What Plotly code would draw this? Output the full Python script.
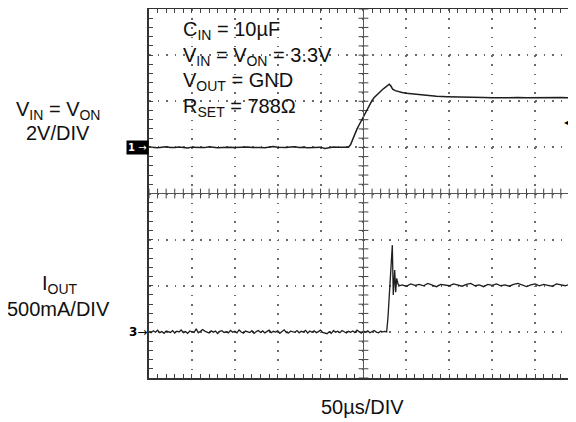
import plotly.graph_objects as go

# ---- data (time in microseconds, VIN in volts, IOUT in mA) ----
vin_t = [-250, -245, -240, -235, -230, -225, -220, -215, -210, -205,
         -200, -195, -190, -185, -180, -175, -170, -165, -160, -155,
         -150, -145, -140, -135, -130, -125, -120, -115, -110, -105,
         -100, -95, -90, -85, -80, -75, -70, -65, -60, -55,
         -50, -45, -40, -35, -30, -25, -20,
         -17.5, -15, -12.5, -10, -7.5, -5, -2.5, 0, 2.5, 5, 7.5, 10, 12.5, 15,
         17.5, 20, 22.5, 25, 27.5, 30, 32, 34, 37, 40, 45, 50, 55, 60, 66,
         75, 85, 98, 110,
         120, 130, 140, 150, 160, 170, 180, 190, 200, 210, 220, 230, 240, 250]
vin_v = [0.02, 0.00, -0.02, 0.01, 0.03, 0.00, -0.01, 0.02, 0.00, -0.03,
         0.01, 0.02, 0.00, -0.01, 0.03, 0.01, -0.02, 0.00, 0.02, 0.01,
         -0.01, 0.00, 0.03, 0.02, -0.01, 0.01, 0.00, -0.02, 0.02, 0.04,
         0.01, 0.00, -0.01, 0.02, 0.03, 0.00, 0.01, -0.02, 0.00, 0.02,
         0.01, -0.05, 0.00, 0.02, 0.01, 0.00, 0.01,
         0.01, 0.12, 0.36, 0.60, 0.80, 0.98, 1.16, 1.36, 1.55, 1.74, 1.92, 2.04, 2.16, 2.26,
         2.36, 2.44, 2.52, 2.59, 2.66, 2.74, 2.66, 2.52, 2.46, 2.42, 2.38, 2.35, 2.33, 2.30, 2.28,
         2.25, 2.22, 2.20, 2.18,
         2.17, 2.16, 2.16, 2.15, 2.16, 2.15, 2.16, 2.15, 2.16, 2.14, 2.15, 2.16, 2.15, 2.15]

iout_t = [-250, -247.5, -245, -242.5, -240, -237.5, -235, -232.5, -230, -227.5,
          -225, -222.5, -220, -217.5, -215, -212.5, -210, -207.5, -205, -202.5,
          -200, -197.5, -195, -192.5, -190, -187.5, -185, -182.5, -180, -177.5,
          -175, -172.5, -170, -167.5, -165, -162.5, -160, -157.5, -155, -152.5,
          -150, -147.5, -145, -142.5, -140, -137.5, -135, -132.5, -130, -127.5,
          -125, -122.5, -120, -117.5, -115, -112.5, -110, -107.5, -105, -102.5,
          -100, -97.5, -95, -92.5, -90, -87.5, -85, -82.5, -80, -77.5,
          -75, -72.5, -70, -67.5, -65, -62.5, -60, -57.5, -55, -52.5,
          -50, -47.5, -45, -42.5, -40, -37.5, -35, -32.5, -30, -27.5,
          -25, -22.5, -20, -17.5, -15, -12.5, -10, -7.5, -5, -2.5,
          0, 2.5, 5, 7.5, 10, 12.5, 15, 17.5, 20, 22.5, 25,
          27, 28.5, 30, 31.5, 33, 33.6, 34.7, 35.5, 36.4, 37.5, 38.7, 40.2, 42,
          45, 50, 55, 60, 65, 70, 75, 80, 85, 90,
          95, 100, 105, 110, 115, 120, 125, 130, 135, 140,
          145, 150, 155, 160, 165, 170, 175, 180, 185, 190,
          195, 200, 205, 210, 215, 220, 225, 230, 235, 240,
          245, 250]
iout_ma = [5, -10, 12, -4, 18, -8, 3, -15, 9, 0,
           -6, 14, -12, 7, -2, 20, -9, 4, -16, 10,
           2, -7, 32, -11, 6, 25, 8, -5, -13, 11,
           -3, 9, -18, 5, 13, -6, 1, -12, 16, -4,
           7, -10, 21, -2, -14, 9, 4, -8, 12, -17,
           3, 15, -6, 10, -11, 0, 18, -9, 6, -3,
           11, -15, 4, 22, -7, -12, 8, 2, -5, 14,
           -10, 6, -2, 17, -13, 9, -4, 12, -8, 3,
           19, -6, -11, -20, 1, -16, 13, -3, 8, -9,
           15, 2, -12, 6, -4, 10, -7, 18, -2, -14,
           8, -5, 12, -9, 4, 16, -3, -10, 7, 0, 5,
           0, 150, 380, 620, 850, 940, 400, 620, 670, 430, 580, 520, 500,
           510, 495, 520, 505, 515, 500, 525, 505, 490, 515,
           510, 500, 520, 505, 495, 515, 525, 500, 510, 490,
           515, 505, 520, 500, 510, 495, 515, 525, 505, 490,
           510, 520, 500, 515, 505, 495, 520, 510, 500, 515,
           505, 510]

# graticule: 10 x 8 divisions
T_DIV = 50      # us/div
V_DIV = 2       # V/div
I_DIV = 500     # mA/div
x_range = [-250, 247.7]
v_range = [-10, 6]
i_range = [-500, 3500]
v_center = -2
trig_v = 1.11

# layout geometry (pixels); the page body adds an 8px offset
OFF = 8
W, H = 576 - OFF, 422 - OFF
L, R, T, B = 149 - OFF, 0, 9 - OFF, 44
PW, PH = W - L - R, H - T - B


def px(x):
    return (x - OFF - L) / PW


def py(y):
    return (H - B - (y - OFF)) / PH


ink = "#111111"
grid = "#6a6a6a"
FONT = "Liberation Sans, Arial, sans-serif"
FS = 20

fig = go.Figure()

# center-line tick marks
ht = [x_range[0] + k * (T_DIV / 5) for k in range(0, 51)]
vt = [v_range[0] + k * (V_DIV / 5) for k in range(0, 41)]
fig.add_trace(go.Scatter(x=ht, y=[v_center] * len(ht), mode="markers",
                         marker=dict(symbol="line-ns", size=7, line=dict(width=1, color="#444")),
                         hoverinfo="skip", showlegend=False))
fig.add_trace(go.Scatter(x=[0] * len(vt), y=vt, mode="markers",
                         marker=dict(symbol="line-ew", size=7, line=dict(width=1, color="#444")),
                         hoverinfo="skip", showlegend=False))

fig.add_trace(go.Scatter(x=vin_t, y=vin_v, mode="lines", line=dict(color="#1e1e1e", width=1.5),
                         showlegend=False, yaxis="y"))
fig.add_trace(go.Scatter(x=iout_t, y=iout_ma, mode="lines", line=dict(color="#1e1e1e", width=1.3),
                         showlegend=False, yaxis="y2"))

# center lines
fig.add_shape(type="line", xref="x", yref="paper", x0=0, x1=0, y0=0, y1=1,
              line=dict(color="#555", width=1))
fig.add_shape(type="line", xref="paper", yref="y", x0=0, x1=1, y0=v_center, y1=v_center,
              line=dict(color="#555", width=1))

ann = []
cond = ["C<sub>IN</sub> = 10µF",
        "V<sub>IN</sub> = V<sub>ON</sub> = 3.3V",
        "V<sub>OUT</sub> = GND",
        "R<sub>SET</sub> = 788Ω"]
cond_y = [31, 56.5, 82, 107.5]
for s, yy in zip(cond, cond_y):
    ann.append(dict(text=s, xref="paper", yref="paper", x=px(181), y=py(yy),
                    xanchor="left", yanchor="middle", showarrow=False,
                    font=dict(family=FONT, size=FS, color=ink)))

side = [("V<sub>IN</sub> = V<sub>ON</sub>", 58, 110),
        ("2V/DIV", 58, 132.5),
        ("I<sub>OUT</sub>", 60, 284),
        ("500mA/DIV", 58, 308.5),
        ("50µs/DIV", 362, 407)]
for s, xx, yy in side:
    ann.append(dict(text=s, xref="paper", yref="paper", x=px(xx), y=py(yy),
                    xanchor="center", yanchor="middle", showarrow=False,
                    font=dict(family=FONT, size=FS, color=ink)))

# channel markers
ann.append(dict(text="<b>1</b> →", xref="paper", yref="y", x=px(148.5), y=0,
                xanchor="right", yanchor="middle", showarrow=False, bgcolor="black",
                borderpad=1, font=dict(family="DejaVu Sans", size=10, color="white")))
ann.append(dict(text="<b>3</b>→", xref="paper", yref="y2", x=px(149), y=0,
                xanchor="right", yanchor="middle", showarrow=False,
                font=dict(family="DejaVu Sans", size=12, color="black")))
ann.append(dict(text="◀", xref="paper", yref="y", x=px(576), y=trig_v,
                xanchor="right", yanchor="middle", showarrow=False,
                font=dict(family="DejaVu Sans", size=12, color="black")))

fig.update_layout(
    width=W, height=H, margin=dict(l=L, r=R, t=T, b=B),
    paper_bgcolor="white", plot_bgcolor="white",
    annotations=ann,
    xaxis=dict(range=x_range, tick0=0, dtick=T_DIV, showgrid=True, gridcolor=grid,
               gridwidth=1.6, griddash="1.6px,7.62px", zeroline=False,
               showline=True, linecolor="#333", linewidth=1.6, mirror="allticks",
               ticks="inside", ticklen=4, tickcolor="#444", showticklabels=False,
               minor=dict(dtick=T_DIV / 5, ticks="inside", ticklen=4, tickcolor="#444",
                          showgrid=False)),
    yaxis=dict(range=v_range, tick0=0, dtick=V_DIV, showgrid=True, gridcolor=grid,
               gridwidth=1.6, griddash="1.6px,6.98px", zeroline=False,
               showline=True, linecolor="#333", linewidth=1.6, mirror=False,
               ticks="inside", ticklen=4, tickcolor="#444", showticklabels=False,
               minor=dict(dtick=V_DIV / 5, ticks="inside", ticklen=4, tickcolor="#444",
                          showgrid=False)),
    yaxis2=dict(range=i_range, overlaying="y", visible=False, showgrid=False, zeroline=False),
)

fig.write_html("out.html")
